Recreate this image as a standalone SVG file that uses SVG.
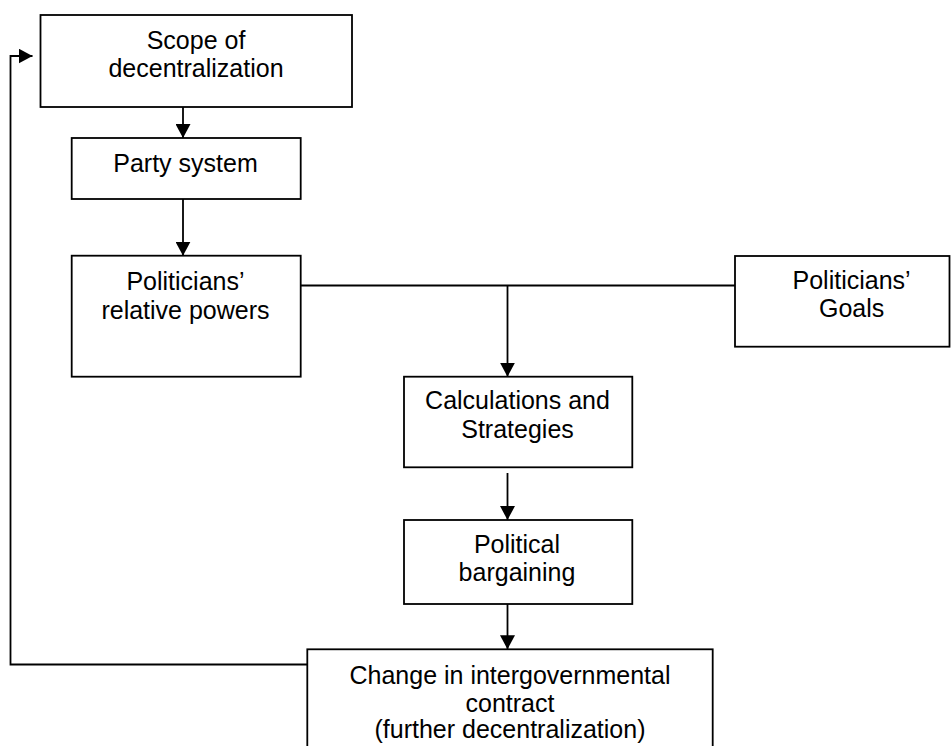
<svg xmlns="http://www.w3.org/2000/svg" width="951" height="746" viewBox="0 0 951 746">
<style>
.box{fill:#fff;stroke:#000;stroke-width:1.8}
.lbl{font-family:"Liberation Sans",Arial,sans-serif;font-size:25px;fill:#000;text-anchor:middle}
.con{fill:none;stroke:#000;stroke-width:1.8}
</style>
<defs>
<marker id="ah" viewBox="0 0 14 15" refX="14" refY="7.5" markerWidth="14" markerHeight="15" markerUnits="userSpaceOnUse" orient="auto">
<path d="M0,0 L14,7.5 L0,15 Z" fill="#000"/>
</marker>
</defs>
<rect width="951" height="746" fill="#fff"/>
<g id="connectors">
<line class="con" x1="183" y1="107" x2="183" y2="138" marker-end="url(#ah)"/>
<line class="con" x1="183" y1="199" x2="183" y2="255.7" marker-end="url(#ah)"/>
<line class="con" x1="300.7" y1="285.5" x2="735" y2="285.5"/>
<line class="con" x1="507.5" y1="285.5" x2="507.5" y2="376.7" marker-end="url(#ah)"/>
<line class="con" x1="507.5" y1="473" x2="507.5" y2="520" marker-end="url(#ah)"/>
<line class="con" x1="507.5" y1="604" x2="507.5" y2="649.3" marker-end="url(#ah)"/>
<polyline class="con" points="307.3,664.5 10.5,664.5 10.5,56 32.5,56" marker-end="url(#ah)"/>
</g>
<g id="scope">
<rect class="box" x="40.5" y="15" width="311.5" height="92"/>
<text class="lbl" x="196" y="49.3">Scope of</text>
<text class="lbl" x="196" y="76.7">decentralization</text>
</g>
<g id="party">
<rect class="box" x="71.7" y="138" width="229" height="61"/>
<text class="lbl" x="185.5" y="171.7">Party system</text>
</g>
<g id="powers">
<rect class="box" x="71.7" y="255.7" width="229" height="121"/>
<text class="lbl" x="185.5" y="290">Politicians’</text>
<text class="lbl" x="185.5" y="319">relative powers</text>
</g>
<g id="goals">
<rect class="box" x="735" y="256" width="214.5" height="90.7"/>
<text class="lbl" x="851.6" y="289.3">Politicians’</text>
<text class="lbl" x="851.6" y="316.7">Goals</text>
</g>
<g id="calc">
<rect class="box" x="404" y="376.7" width="228.3" height="90.6"/>
<text class="lbl" x="517.5" y="409.3">Calculations and</text>
<text class="lbl" x="517.5" y="437.7">Strategies</text>
</g>
<g id="bargaining">
<rect class="box" x="404" y="520" width="228.3" height="84"/>
<text class="lbl" x="517" y="552.7">Political</text>
<text class="lbl" x="517" y="580.7">bargaining</text>
</g>
<g id="change">
<rect class="box" x="307.3" y="649.3" width="405.4" height="120"/>
<text class="lbl" x="510" y="684.3">Change in intergovernmental</text>
<text class="lbl" x="510" y="711.7">contract</text>
<text class="lbl" x="510" y="738">(further decentralization)</text>
</g>
</svg>
